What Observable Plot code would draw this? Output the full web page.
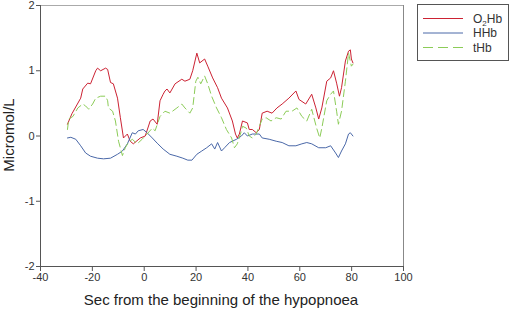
<!DOCTYPE html>
<html>
<head>
<meta charset="utf-8">
<script src="https://cdn.jsdelivr.net/npm/d3@7"></script>
<script src="https://cdn.jsdelivr.net/npm/@observablehq/plot@0.6"></script>
<style>
html,body{margin:0;padding:0;background:#fff;}
</style>
</head>
<body>
<div id="chart"></div>
<script>
const xTicks = [-40, -20, 0, 20, 40, 60, 80, 100];
const yTicks = [-2, -1, 0, 1, 2];
const seriesNames = ["O2Hb", "HHb", "tHb"];

const o2hbX = [-29.6,-27.9,-24.5,-23.7,-21.8,-20.7,-18.7,-18,-16.8,-14.9,-14.1,-13,-11.9,-10.3,-9.2,-8,-6.5,-5.4,-4.2,-1.5,0.4,2.3,3.4,5,6.1,7.3,8,8.8,9.9,11.9,14.5,15.7,17.6,18.7,20.3,21.4,23.3,24.5,26.4,28.3,29.8,32.1,34,35.2,35.9,36.7,37.9,39.8,40.5,41.7,43.2,44.4,45.5,47.4,49.3,51.2,53.2,55.8,58.5,59.7,62.3,64.6,66.2,67.3,68.5,70.4,71.9,73,74.2,75.3,76.1,77.6,78.8,79.5,79.9,80.5];
const o2hbY = [0.18,0.34,0.58,0.72,0.81,0.8,1.0,1.04,1.0,1.04,1.02,0.82,0.8,0.58,0.28,-0.03,0.03,-0.08,-0.12,-0.03,0,0.23,0.26,0.18,0.54,0.64,0.69,0.72,0.66,0.8,0.87,0.84,0.87,1.0,1.27,1.12,1.18,1.07,0.89,0.74,0.58,0.43,0.23,0.03,-0.03,0.03,0.23,0.2,0.1,0.1,0.05,0.1,0.35,0.38,0.35,0.43,0.49,0.58,0.69,0.56,0.49,0.64,0.43,0.26,0.43,0.84,0.89,1.0,0.81,0.61,0.74,1.15,1.3,1.32,1.18,1.12];

const hhbX = [-29.6,-28.3,-26.4,-24.5,-22.6,-20.7,-18,-15.7,-13,-10.3,-8.4,-6.5,-4.6,-3.4,-2.3,-0.4,1.1,3.1,5,7.3,9.9,12.6,14.9,16.8,18.4,20.3,22.2,24.1,26,27.2,28.3,29.8,31,32.9,35.6,37.5,38.6,39.8,41.7,44.4,45.5,48.2,50.9,53.2,55.8,58.5,60.8,62.7,64.6,67.3,70,71.9,73.8,74.9,76.1,77.6,78.8,79.5,80.5];
const hhbY = [-0.03,-0.02,-0.05,-0.15,-0.26,-0.31,-0.34,-0.35,-0.34,-0.28,-0.23,-0.12,0.05,0.03,0.08,0.1,0.05,-0.03,-0.11,-0.2,-0.28,-0.31,-0.34,-0.37,-0.37,-0.28,-0.23,-0.18,-0.12,-0.2,-0.1,-0.23,-0.18,-0.1,-0.05,0,0.05,0,0.03,0.03,-0.03,-0.05,-0.08,-0.1,-0.15,-0.15,-0.12,-0.1,-0.12,-0.18,-0.18,-0.15,-0.26,-0.33,-0.23,-0.12,0.03,0.05,0];

const thbX = [-29.6,-29.1,-27.5,-25.6,-23.7,-22.6,-21.4,-19.9,-18.7,-16.8,-14.9,-14.1,-13.8,-12.2,-11.1,-9.9,-8.4,-7.3,-6.1,-4.6,-2.7,-0.8,1.1,3.1,4.2,6.1,8,9.9,12.6,14.5,15.7,17.6,18.7,19.9,20.7,21.8,23.3,24.5,26,27.9,29.8,31.7,33.7,34.8,35.9,37.5,37.9,39.4,40.5,41.7,43.2,44.4,45.5,47,48.9,50.9,52.8,54.7,57,58.9,60.8,62.7,64.6,66.5,67.7,68.5,70.4,71.9,73,74.2,74.9,76.1,77.6,78.8,79.9,80.5];
const thbY = [0.1,0.26,0.3,0.43,0.49,0.46,0.41,0.49,0.58,0.61,0.61,0.54,0.43,0.38,0.23,-0.08,-0.3,-0.18,-0.1,-0.05,-0.12,-0.05,0.03,0.12,0.08,0.3,0.38,0.35,0.43,0.49,0.43,0.35,0.43,0.84,0.9,0.8,0.92,0.8,0.61,0.43,0.28,0.1,-0.03,-0.18,-0.12,0.08,0.15,0.12,0,-0.03,0.03,0.15,0.26,0.28,0.23,0.28,0.26,0.38,0.38,0.43,0.3,0.23,0.41,0.12,-0.03,0.12,0.54,0.64,0.69,0.38,0.18,0.38,0.84,1.27,1.07,1.1];

const colors = {O2Hb: "#cc2233", HHb: "#4a68a8", tHb: "#8ccc58"};
const dashes = {O2Hb: null, HHb: null, tHb: "7,4"};

const toRows = (xs, ys) => xs.map((x, i) => ({x, y: ys[i]}));
const data = {O2Hb: toRows(o2hbX, o2hbY), HHb: toRows(hhbX, hhbY), tHb: toRows(thbX, thbY)};

const fmt = d => String(d);
const chart = Plot.plot({
  width: 510,
  height: 311,
  marginLeft: 40,
  marginRight: 107,
  marginTop: 5,
  marginBottom: 45,
  style: {fontFamily: "'Liberation Sans', Arial, sans-serif", fontSize: "11px", color: "#333", background: "#fff"},
  x: {domain: [-40, 100]},
  y: {domain: [-2, 2]},
  marks: [
    Plot.ruleY([2], {stroke: "#aaa", strokeWidth: 1}),
    Plot.ruleX([100], {stroke: "#888", strokeWidth: 1}),
    Plot.ruleX([-40], {stroke: "#555", strokeWidth: 1}),
    Plot.ruleY([-2], {stroke: "#555", strokeWidth: 1}),
    Plot.axisX({ticks: xTicks, tickFormat: fmt, tickSize: 5, tickPadding: 2, label: null, stroke: "#555"}),
    Plot.axisY({ticks: yTicks, tickFormat: fmt, tickSize: 4, tickPadding: 2, label: null, stroke: "#555"}),
    ...seriesNames.map(n => Plot.line(data[n], {x: "x", y: "y", stroke: colors[n], strokeWidth: 1, strokeDasharray: dashes[n]}))
  ]
});

const svg = d3.select(chart);
const font = "'Liberation Sans', Arial, sans-serif";
// axis titles
svg.append("text").attr("x", 221).attr("y", 305).attr("text-anchor", "middle")
  .attr("font-family", font).attr("font-size", 15).attr("fill", "#222")
  .text("Sec from the beginning of the hypopnoea");
svg.append("text").attr("transform", "translate(14,135) rotate(-90)").attr("text-anchor", "middle")
  .attr("font-family", font).attr("font-size", 15).attr("fill", "#222")
  .text("Micromol/L");

// legend
const lg = svg.append("g").attr("text-anchor", "start");
lg.append("rect").attr("x", 417.5).attr("y", 4.5).attr("width", 91).attr("height", 56)
  .attr("fill", "#fff").attr("stroke", "#555").attr("stroke-width", 1);
seriesNames.forEach((n, i) => {
  const yy = 18.5 + i * 14.5;
  lg.append("line").attr("x1", 423).attr("x2", 463).attr("y1", yy).attr("y2", yy)
    .attr("stroke", colors[n]).attr("stroke-width", 1)
    .attr("stroke-dasharray", dashes[n] ? "10,5" : null);
  const t = lg.append("text").attr("x", 473).attr("y", yy + 4).attr("text-anchor", "start")
    .attr("font-family", font).attr("font-size", 12).attr("fill", "#333");
  if (n === "O2Hb") {
    t.append("tspan").text("O");
    t.append("tspan").attr("font-size", 8).attr("dy", 3).text("2");
    t.append("tspan").attr("dy", -3).text("Hb");
  } else {
    t.text(n);
  }
});

document.getElementById("chart").appendChild(chart);
</script>
</body>
</html>
